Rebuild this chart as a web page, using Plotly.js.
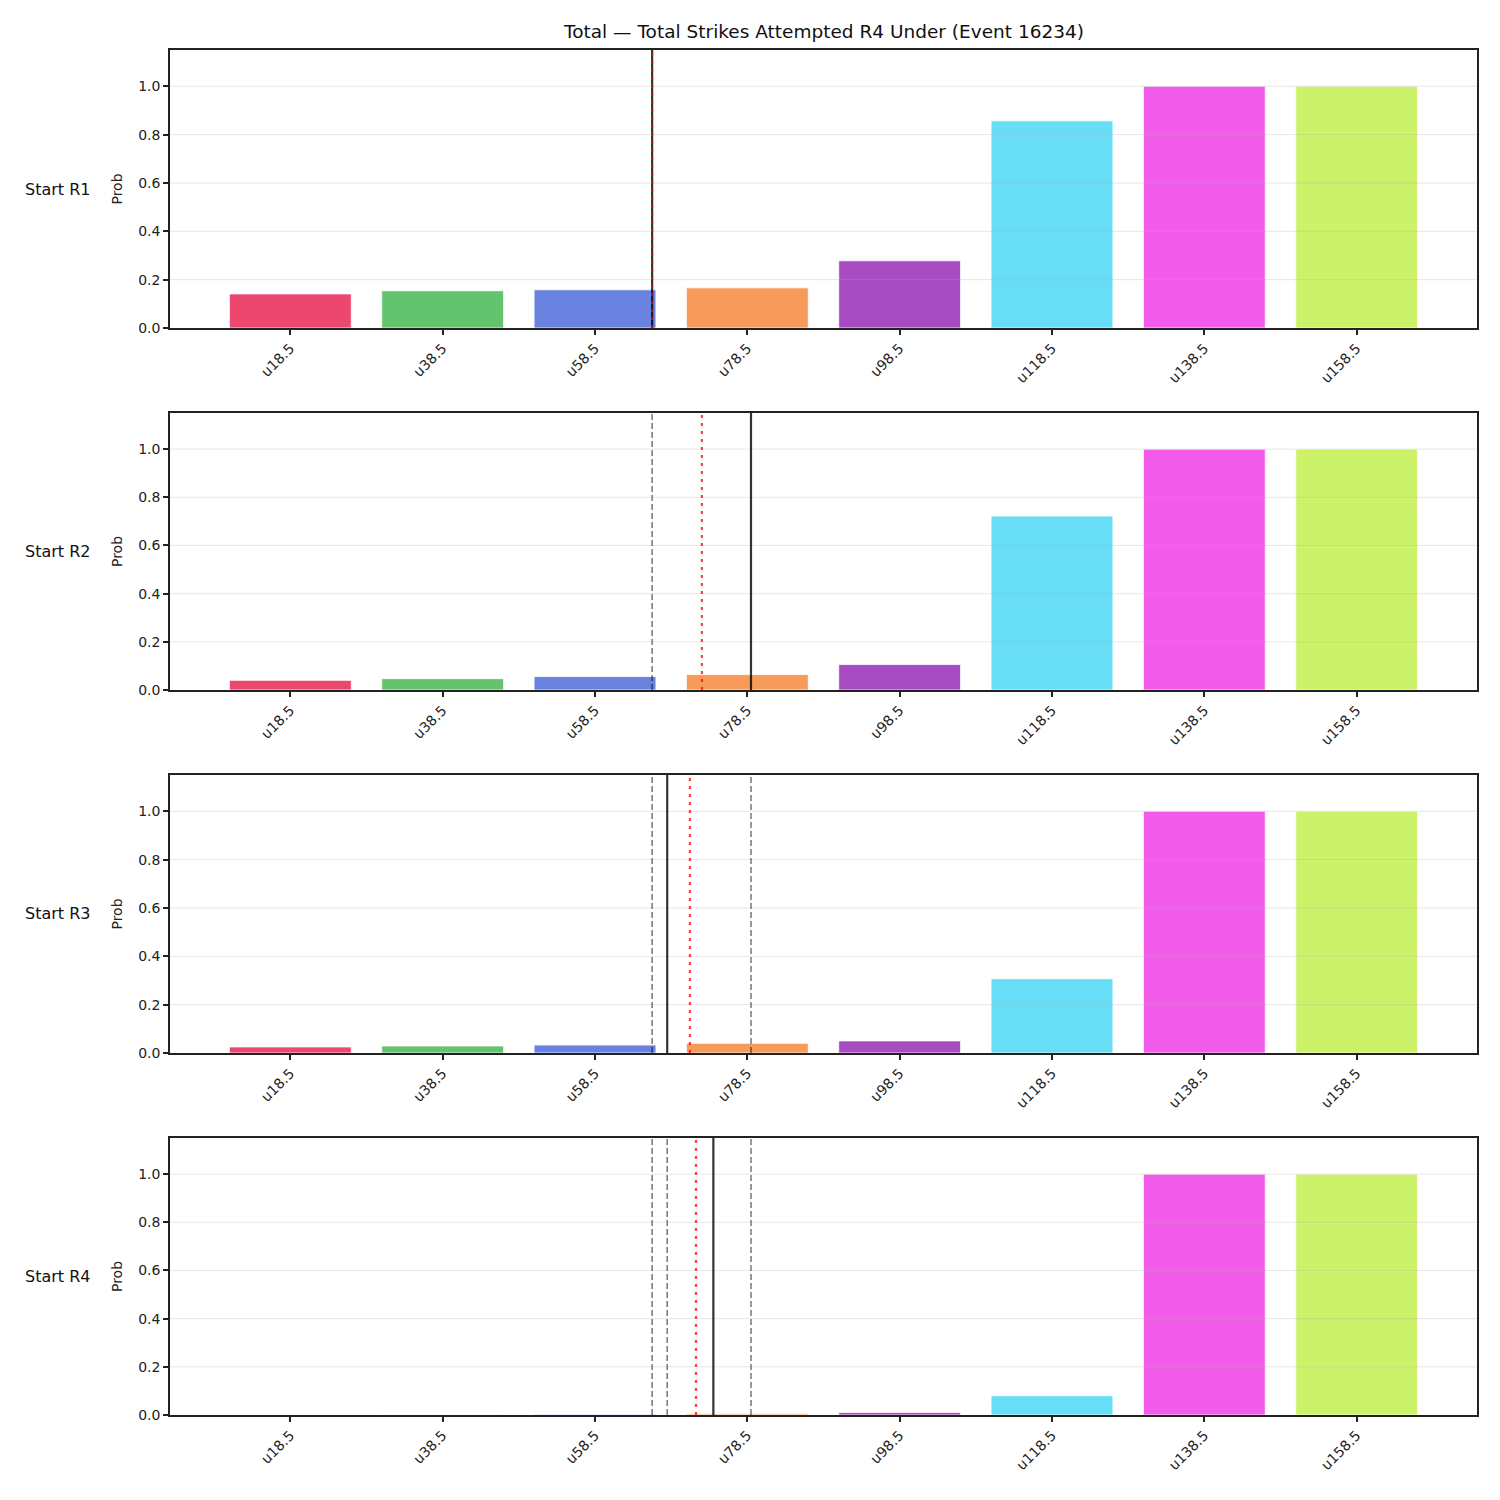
<!DOCTYPE html>
<html>
<head>
<meta charset="utf-8">
<script src="https://cdn.plot.ly/plotly-3.0.1.min.js"></script>
<style>
  html, body { margin: 0; padding: 0; background: #fff; }
  #chart { width: 1500px; height: 1500px; }
</style>
</head>
<body>
<div id="chart"></div>
<script>
// Under-line thresholds (x categories)
const categories = ['u18.5', 'u38.5', 'u58.5', 'u78.5', 'u98.5', 'u118.5', 'u138.5', 'u158.5'];

// Probability of staying under each line, by starting round
const rowLabels = ['Start R1', 'Start R2', 'Start R3', 'Start R4'];
const probR1 = [0.141, 0.154, 0.158, 0.166, 0.278, 0.857, 1.0, 1.0];
const probR2 = [0.040, 0.047, 0.056, 0.064, 0.106, 0.722, 1.0, 1.0];
const probR3 = [0.025, 0.029, 0.033, 0.040, 0.050, 0.307, 1.0, 1.0];
const probR4 = [0.0005, 0.001, 0.003, 0.005, 0.010, 0.080, 1.0, 1.0];
const probs = [probR1, probR2, probR3, probR4];

// Marker positions on the category scale (index units)
const currentLine = [2.375, 3.024, 2.474, 2.777];   // solid black
const projected   = [2.375, 2.702, 2.623, 2.663];   // red dotted
const earlierLines = [[], [2.375], [2.375, 3.024], [2.375, 2.474, 3.024]]; // grey dashed

const yTicks = [0, 0.2, 0.4, 0.6, 0.8, 1.0];

const barColors = [
  'rgba(230,25,75,0.8)', 'rgba(60,180,75,0.8)', 'rgba(67,99,216,0.8)', 'rgba(245,130,49,0.8)',
  'rgba(145,30,180,0.8)', 'rgba(66,212,244,0.8)', 'rgba(240,50,230,0.8)', 'rgba(191,239,69,0.8)'
];

// Panel boxes in pixels (top, bottom) on a 1500px canvas
const W = 1500, H = 1500;
const panelTop = [50, 413, 775, 1138];
const panelBottom = [328, 690, 1053, 1415];
const xLeft = 170, xRight = 1477;

const font = 'DejaVu Sans, sans-serif';
const traces = [];
const shapes = [];
const annotations = [];
const layout = {
  width: W, height: H,
  margin: {l: 0, r: 0, t: 0, b: 0},
  paper_bgcolor: '#ffffff',
  plot_bgcolor: '#ffffff',
  showlegend: false,
  bargap: 0.2,
  font: {family: font, color: '#222', size: 14},
  title: {
    text: 'Total — Total Strikes Attempted R4 Under (Event 16234)',
    x: 824 / W, xanchor: 'center', y: 1 - 32 / H, yanchor: 'middle',
    font: {family: font, size: 18.5, color: '#111'}
  }
};

probs.forEach((vals, i) => {
  const n = i + 1;
  const xa = n === 1 ? 'x' : 'x' + n;
  const ya = n === 1 ? 'y' : 'y' + n;
  const xKey = n === 1 ? 'xaxis' : 'xaxis' + n;
  const yKey = n === 1 ? 'yaxis' : 'yaxis' + n;

  traces.push({
    type: 'bar', x: categories, y: vals, xaxis: xa, yaxis: ya,
    width: 0.8,
    marker: {color: barColors, line: {color: '#ffffff', width: 0.8}},
    hoverinfo: 'x+y'
  });

  const dom = [1 - panelBottom[i] / H, 1 - panelTop[i] / H];
  layout[xKey] = {
    domain: [xLeft / W, xRight / W],
    anchor: ya,
    type: 'category',
    range: [-0.79, 7.79],
    tickangle: -45,
    ticks: 'outside', ticklen: 5, tickwidth: 1.5, tickcolor: '#222',
    showline: true, linecolor: '#222', linewidth: 1.5, mirror: true,
    showgrid: false, zeroline: false,
    tickfont: {family: font, size: 14, color: '#222'}
  };
  layout[yKey] = {
    domain: dom,
    anchor: xa,
    range: [0, 1.15],
    tickvals: yTicks,
    tickformat: '.1f',
    ticks: 'outside', ticklen: 5, tickwidth: 1.5, tickcolor: '#222',
    showline: true, linecolor: '#222', linewidth: 1.5, mirror: true,
    showgrid: false, zeroline: false,
    tickfont: {family: font, size: 14, color: '#222'},
    title: {text: 'Prob', font: {family: font, size: 14, color: '#222'}, standoff: 12}
  };

  // horizontal grid drawn over the bars
  yTicks.slice(1).forEach(t => {
    shapes.push({
      type: 'line', xref: xa + ' domain', yref: ya, x0: 0, x1: 1, y0: t, y1: t,
      line: {color: 'rgba(176,176,176,0.3)', width: 1}, layer: 'above'
    });
  });

  earlierLines[i].forEach(v => {
    shapes.push({
      type: 'line', xref: xa, yref: ya + ' domain', x0: v, x1: v, y0: 0, y1: 1,
      line: {color: 'rgba(0,0,0,0.5)', width: 1.6, dash: '6px,3px'}, layer: 'above'
    });
  });
  shapes.push({
    type: 'line', xref: xa, yref: ya + ' domain', x0: currentLine[i], x1: currentLine[i], y0: 0, y1: 1,
    line: {color: 'rgba(0,0,0,0.8)', width: 2.2}, layer: 'above'
  });
  shapes.push({
    type: 'line', xref: xa, yref: ya + ' domain', x0: projected[i], x1: projected[i], y0: 0, y1: 1,
    line: {color: 'rgba(255,0,0,0.75)', width: 2.2, dash: '3px,5px'}, layer: 'above'
  });

  annotations.push({
    text: rowLabels[i], xref: 'paper', yref: 'paper',
    x: 57 / W, y: (dom[0] + dom[1]) / 2, xanchor: 'center', yanchor: 'middle',
    showarrow: false, font: {family: font, size: 16, color: '#111'}
  });
});

layout.shapes = shapes;
layout.annotations = annotations;

Plotly.newPlot('chart', traces, layout, {displayModeBar: false, responsive: false});
</script>
</body>
</html>
